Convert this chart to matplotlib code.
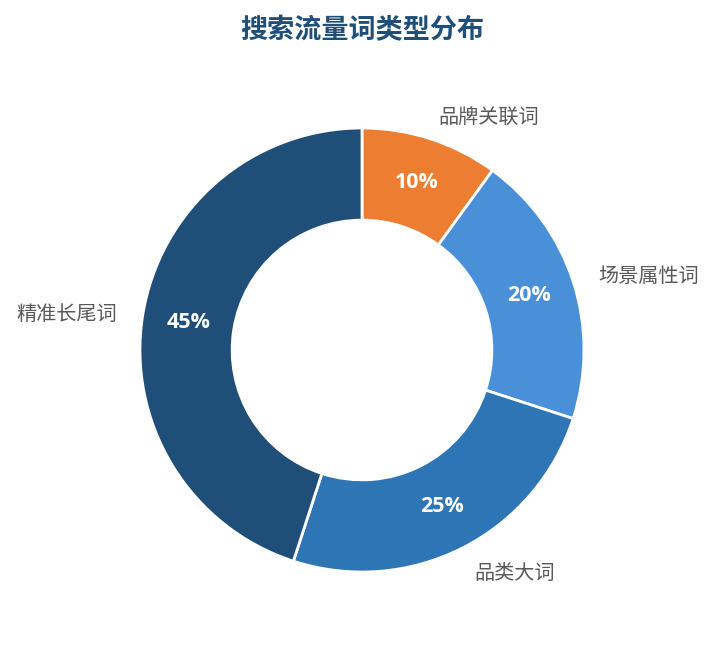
import matplotlib
matplotlib.use("Agg")
import matplotlib.pyplot as plt

categories = ["品牌关联词", "场景属性词", "品类大词", "精准长尾词"]
values = [10, 20, 25, 45]
colors = ["#ed7d31", "#4a90d9", "#2e75b6", "#1f4e79"]
title = "搜索流量词类型分布"

plt.rcParams['font.family'] = ['Noto Sans CJK SC', 'DejaVu Sans']

fig = plt.figure(figsize=(7.16, 6.45), dpi=100)
ax = fig.add_axes([0, 0, 1, 1])

R = 222
CX, CY = 362, 295
wedges, texts, autotexts = ax.pie(
    values, labels=categories, colors=colors, startangle=90, counterclock=False,
    center=(CX, CY), radius=R, labeldistance=1.117, pctdistance=0.793,
    autopct=lambda p: f"{p:.0f}%",
    wedgeprops=dict(width=R * 0.415, edgecolor='white', linewidth=2),
    textprops=dict(fontsize=14.5, color='#595959'), frame=True)
ax.set_xlim(0, 716)
ax.set_ylim(0, 645)
ax.set_aspect('equal')
ax.axis('off')
for t in texts:
    x, y = t.get_position()
    t.set_horizontalalignment('left' if x > CX else 'right')
    t.set_position((x, y - 3))
for t in autotexts:
    t.set_color('white')
    t.set_fontsize(15.5)
    t.set_fontweight('bold')
    t.set_fontfamily(['Open Sans', 'DejaVu Sans'])

fig.text(0.5056, 1 - 30 / 645, title, ha='center', va='center',
         fontsize=19.5, fontweight='bold', color='#1f4e79')

fig.savefig("out.png", dpi=100, facecolor='white')
